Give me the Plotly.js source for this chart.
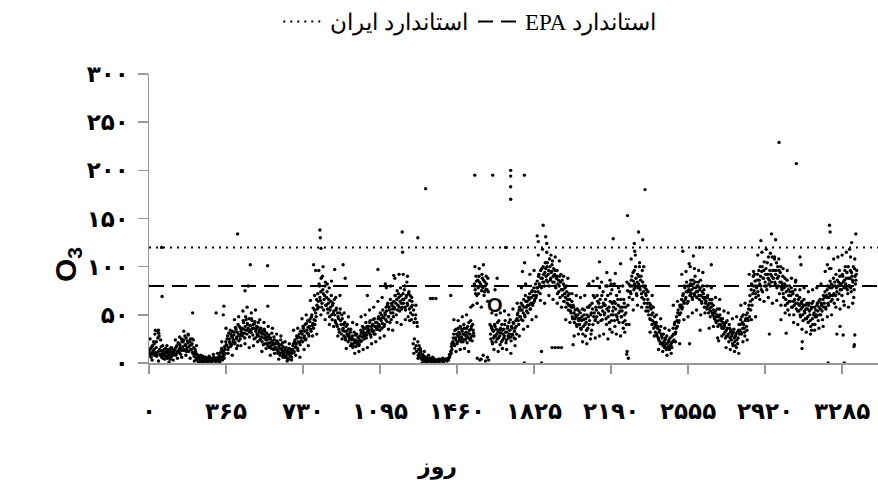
<!DOCTYPE html>
<html>
<head>
<meta charset="utf-8">
<script src="https://cdn.plot.ly/plotly-3.0.1.min.js"></script>
<style>html,body{margin:0;padding:0;background:#fff}#chart{width:878px;height:494px}</style>
</head>
<body>
<div id="chart"></div>
<script>
// Daily O3 readings, sampled every 4 days starting at day 0 (null = no data)
const sampleStepDays = 4;
const o3Values = [
12,8,15,10,18,9,14,30,11,7,
33,12,28,9,13,6,11,8,14,10,
7,12,5,10,9,14,6,11,8,13,
10,15,9,18,12,20,11,16,14,22,
17,24,13,19,26,15,21,12,18,25,
14,20,10,16,8,12,5,9,4,7,
3,5,2,4,6,3,2,5,4,3,
2,4,3,5,2,3,4,6,3,2,
4,3,5,2,10,4,15,3,8,5,
14,22,18,28,16,25,20,30,19,26,
24,32,21,35,27,18,30,38,25,33,
36,28,42,31,38,45,30,40,34,27,
39,32,44,29,36,41,26,35,30,37,
28,34,25,31,22,30,26,33,20,27,
24,18,29,21,26,15,23,19,27,16,
20,14,22,12,18,10,24,15,11,17,
9,14,7,12,5,10,15,8,11,6,
14,20,12,24,17,28,15,22,30,19,
26,33,22,36,28,40,25,34,44,30,
38,46,33,50,41,36,55,44,48,60,
72,58,80,65,88,62,76,55,70,84,
60,74,52,66,48,58,70,45,62,54,
50,42,57,38,48,35,52,44,30,46,
36,28,42,24,33,40,22,30,27,35,
20,28,18,32,24,17,30,22,26,19,
28,34,23,38,30,25,36,42,29,33,
38,31,44,27,35,40,33,46,30,37,
42,35,48,38,52,44,36,55,47,40,
50,58,43,62,48,55,66,45,60,52,
64,56,70,50,75,60,68,54,78,62,
58,72,66,80,55,70,62,48,74,65,
52,45,60,20,42,15,50,12,38,8,
18,6,12,4,9,3,7,2,5,3,
2,4,3,2,5,3,2,4,3,2,
3,2,null,4,null,3,null,2,5,null,
3,null,4,2,null,3,6,null,10,14,
22,30,18,26,35,20,28,32,24,38,
27,33,22,40,29,25,36,21,31,42,
30,26,38,23,34,28,80,72,85,5,
78,90,3,82,75,88,8,70,84,76,
82,6,74,null,40,25,36,20,33,28,
38,22,30,42,26,34,19,31,40,24,
35,28,44,21,32,38,26,30,45,23,
36,29,41,33,25,38,46,52,40,58,
48,62,55,44,66,50,70,58,64,52,
60,72,56,68,75,62,78,66,82,70,
85,74,92,80,96,78,88,100,84,94,
98,86,104,92,80,100,88,95,106,90,
84,96,78,90,72,86,80,68,92,76,
70,82,64,78,58,74,66,55,72,60,
52,64,46,58,42,55,48,38,50,44,
40,52,35,48,30,45,55,28,42,50,
36,58,44,25,52,62,40,48,68,45,
55,70,42,62,78,50,58,45,74,60,
52,66,40,80,48,58,35,72,44,62,
50,64,38,56,70,45,60,42,54,66,
48,58,36,62,44,52,9,75,5,68,
80,72,90,66,85,96,78,88,70,92,
82,100,76,90,68,84,74,62,80,70,
58,66,50,62,45,56,40,52,36,48,
32,42,28,38,24,34,20,30,26,18,
22,16,26,14,20,17,24,15,19,21,
28,36,24,42,32,48,38,55,44,60,
52,66,58,72,62,78,68,84,74,64,
80,70,86,76,66,82,72,90,78,68,
74,84,66,78,70,62,80,72,58,68,
64,56,70,52,62,48,58,66,50,55,
46,54,42,50,38,48,56,40,44,36,
42,30,38,26,34,44,28,22,36,32,
24,30,18,35,22,28,16,32,26,40,
34,45,30,42,50,36,28,46,38,52,
44,60,70,55,82,66,90,75,85,68,
78,92,70,86,100,80,95,74,88,105,
84,98,76,92,110,86,80,102,90,96,
88,108,82,96,78,100,90,72,94,84,
76,90,68,82,60,74,86,55,70,80,
64,78,58,72,50,66,84,56,70,62,
54,68,48,62,58,44,66,52,60,46,
56,42,62,50,38,58,46,64,52,40,
55,48,62,44,58,66,50,60,45,70,
62,74,56,68,80,60,72,85,64,78,
70,88,62,80,92,74,66,84,96,76,
82,70,90,64,86,100,78,94,72,88,
80,96,74,90,84,68,98,82,92
];
// In-between days, sampled every 4 days starting at day 2
const o3ValuesOffsetStart = 2;
const o3ValuesOffset = [
14,10,6,17,12,22,8,34,16,9,
26,31,14,8,17,10,5,13,9,15,
11,6,14,8,12,4,16,9,14,10,
13,8,17,11,21,14,19,9,25,13,
22,14,28,18,12,23,29,17,22,14,
19,11,24,7,14,10,3,8,6,2,
5,2,4,7,2,4,6,3,1,5,
3,6,2,4,5,2,3,5,2,4,
2,6,3,7,4,12,6,10,13,17,
10,19,25,14,31,22,17,28,33,22,
29,20,37,25,32,40,23,28,36,30,
31,44,35,26,48,34,41,36,46,32,
34,46,36,40,25,43,33,38,28,42,
32,24,36,27,33,19,35,29,24,31,
20,27,16,25,18,31,21,14,24,20,
16,23,10,20,15,8,19,13,21,8,
12,6,16,9,13,4,11,7,14,10,
18,11,22,16,20,26,13,27,21,33,
23,30,38,26,33,24,41,31,37,28,
43,35,48,39,57,45,40,52,66,56,
64,82,68,74,58,90,72,66,80,60,
68,56,62,78,55,64,50,60,52,66,
44,55,40,52,46,32,56,40,50,34,
40,33,26,38,30,28,35,25,32,24,
26,16,24,21,29,23,20,27,18,24,
22,31,27,33,36,28,31,26,38,35,
34,42,29,38,33,45,30,38,42,35,
38,46,40,34,46,50,41,48,38,52,
45,54,60,48,58,42,52,62,56,48,
58,70,62,66,55,72,58,64,70,56,
66,62,76,58,68,84,60,72,56,70,
58,64,50,55,25,46,18,42,22,14,
10,14,5,8,3,6,4,2,6,4,
3,2,5,3,2,4,2,3,4,3,
null,3,2,null,4,null,3,null,null,2,
null,4,null,3,5,null,8,12,17,20,
26,20,34,24,30,22,36,26,30,22,
35,25,30,36,24,32,28,38,26,34,
24,35,28,40,31,82,76,90,70,86,
72,84,80,4,92,78,86,74,80,90,
76,88,3,null,30,38,22,34,26,40,
28,35,25,32,44,28,36,22,34,30,
26,40,32,24,36,28,42,34,27,38,
30,42,26,36,44,30,50,44,55,48,
55,45,60,52,58,48,64,54,60,68,
66,56,62,74,60,70,64,74,68,78,
78,90,82,72,88,98,84,92,80,104,
90,100,84,96,108,86,94,102,84,98,
92,80,88,96,82,74,90,84,76,86,
76,64,72,68,80,62,70,60,66,54,
58,48,60,52,46,50,40,56,46,54,
46,36,44,56,38,50,40,46,34,58,
48,40,60,50,34,56,70,52,44,58,
48,64,52,58,66,44,70,54,62,50,
60,46,56,70,54,42,64,50,76,54,
58,44,62,50,48,66,52,74,58,48,
54,42,66,50,58,40,12,60,82,74,
74,86,80,94,76,82,100,72,84,78,
90,78,86,72,96,80,66,78,72,76,
62,54,58,46,60,50,44,58,42,38,
40,30,36,26,32,22,38,28,20,30,
18,24,20,28,16,22,14,26,18,16,
22,30,40,30,36,44,52,42,50,58,
60,56,70,64,80,66,74,62,80,76,
74,82,72,68,86,78,70,84,74,80,
80,70,76,86,64,74,68,76,66,62,
58,68,60,56,66,54,62,52,60,48,
52,44,48,56,44,40,50,46,38,46,
36,40,32,42,28,36,30,40,26,34,
28,20,32,26,18,30,24,20,34,30,
40,32,48,36,40,32,44,50,34,46,
56,48,64,76,60,72,80,92,72,80,
86,74,96,82,90,76,100,88,96,80,
92,80,104,88,82,96,92,84,110,88,
96,84,92,104,88,80,96,84,100,78,
82,72,78,88,66,80,62,76,64,74,
70,58,74,64,60,76,62,70,54,66,
60,50,56,64,50,60,54,46,56,62,
48,60,54,44,56,62,40,50,58,48,
50,60,54,64,50,56,62,54,66,58,
68,58,70,76,62,68,78,70,82,66,
80,72,84,70,78,86,80,72,90,82,
76,92,84,78,96,82,88,76,100,80,
88,78,94,86,100,76,90,86,96
];
// Widely scattered readings, sampled every 10 days starting at day 5
const o3SpreadStart = 5;
const o3SpreadStep = 10;
const o3Spread = [
25,3,20,22, 2,24,18,4, 18,1,16,3, 24,5,27,6, 33,8,30,5,
25,2,18,1, 8,0,6,1, 7,0,9,2, 10,1,22,8, 36,10,34,8,
45,15,48,18, 54,20,58,16, 52,18,55,22, 45,12,42,15, 38,8,36,10,
30,4,28,6, 22,2,20,3, 34,8,36,6, 46,14,50,18, 65,28,70,30,
96,50,100,45, 82,40,85,38, 68,28,70,25, 52,15,48,18, 42,10,40,12,
48,14,50,16, 55,20,58,22, 64,26,68,28, 78,35,80,34, 88,42,92,40,
92,45,90,44, 68,10,60,5, 15,0,12,1, 8,0,6,1, null,0,null,1,
4,null,9,20, 45,12,44,14, 48,15,50,12, 44,60,100,62, 98,58,102,2,
64,null,52,14, 50,12,52,15, 54,14,50,10, 56,18,62,28, 78,35,82,38,
92,45,96,48, 112,65,118,62, 115,70,112,66, 110,62,106,58, 90,45,88,42,
72,28,70,30, 68,22,70,20, 82,30,85,26, 88,28,84,30, 80,25,86,32,
82,30,78,28, 80,32,84,40, 108,55,112,60, 104,58,100,54, 74,32,70,28,
50,14,46,12, 36,8,34,10, 60,22,64,20, 92,45,95,48, 100,52,98,55,
96,50,94,52, 80,36,78,38, 68,26,66,28, 54,16,52,14, 46,12,48,10,
60,22,62,24, 92,45,95,48, 112,66,115,64, 118,68,114,62, 110,65,108,60,
98,52,96,50, 88,42,86,40, 76,35,78,32, 74,30,76,34, 78,36,82,38,
95,48,98,50, 108,58,110,56, 112,60,115,58, 110,62,108
];
// Isolated readings (day, value)
const extraDays = [60,62,45,207,318,355,352,420,480,562,470,455,563,780,810,812,815,790,920,880,930,1035,1085,1120,1160,1200,1274,1202,1311,1334,1345,1360,1430,1525,1544,1629,1779,1714,1714,1714,1714,1650,1690,1640,1770,1780,1868,1840,1845,1880,1885,1910,1925,1940,1955,1860,2010,1779,1860,2135,2170,2190,2200,2235,2210,2268,2351,2300,2320,2340,2302,2530,2580,2560,2610,2665,2562,2612,2700,2940,2986,3068,2900,2950,2970,3085,3090,2995,3020,3095,3096,3140,3225,3228,3220,3215,3232,3260,3275,3290,3345,3343,3219,3295,3341,3330,3350,3320];
const extraVals = [120,69,34,52,52,59,50,134,102,101,80,75,59,102,138,130,119,96,102,97,88,70,97,82,91,136,130,115,181,67,67,67,70,58,195,195,195,200,194,183,170,88,120,76,95,104,143,132,126,131,124,16,16,16,16,12,19,0,0,105,94,82,129,103,93,153,180,124,136,128,116,116,111,103,120,102,20,34,23,30,229,207,127,134,128,110,102,45,31,15,22,34,143,136,119,102,98,30,38,29,29,19,0,0,17,125,134,118];
// Standards
const standardNames = ['استاندارد ایران', 'استاندارد EPA'];
const standardValues = [120, 80];
const xTickVals = [0,365,730,1095,1460,1825,2190,2555,2920,3285];
const xTickText = ['۰','۳۶۵','۷۳۰','۱۰۹۵','۱۴۶۰','۱۸۲۵','۲۱۹۰','۲۵۵۵','۲۹۲۰','۳۲۸۵'];
const yTickVals = [0,50,100,150,200,250,300];
const yTickText = ['۰','۵۰','۱۰۰','۱۵۰','۲۰۰','۲۵۰','۳۰۰'];
const xMax = 3455;

const mainX = o3Values.map((v,i)=>i*sampleStepDays);
const offX = o3ValuesOffset.map((v,i)=>o3ValuesOffsetStart + i*sampleStepDays);
const spreadX = o3Spread.map((v,i)=>o3SpreadStart + i*o3SpreadStep);
const allX = mainX.concat(offX, spreadX, extraDays);
const allY = o3Values.concat(o3ValuesOffset, o3Spread, extraVals);

const rtl = s => '\u202B' + s + '\u202C';

const traces = [
  {x: allX, y: allY, type:'scatter', mode:'markers', showlegend:false,
   marker:{color:'#000', size:3.4}, hoverinfo:'skip'},
  {x:[0,xMax], y:[standardValues[0],standardValues[0]], type:'scatter', mode:'lines',
   name: rtl(standardNames[0]), line:{color:'#000', width:2, dash:'2px,5px'}},
  {x:[0,xMax], y:[standardValues[1],standardValues[1]], type:'scatter', mode:'lines',
   name: rtl(standardNames[1]), line:{color:'#000', width:2, dash:'15px,8px'}}
];

const tickFont = {family:'DejaVu Sans', size:23, color:'#000', weight:'bold'};
const layout = {
  width:878, height:494,
  margin:{l:149, r:0, t:74, b:131, autoexpand:false},
  paper_bgcolor:'#fff', plot_bgcolor:'#fff',
  showlegend:true,
  legend:{orientation:'h', x:0.44, xanchor:'center', yref:'container', y:1, yanchor:'top',
    itemwidth:42,
    font:{family:'Liberation Serif', size:23, color:'#000'}, bgcolor:'rgba(0,0,0,0)'},
  xaxis:{range:[0,xMax], tickvals:xTickVals, ticktext:xTickText, showgrid:false, zeroline:false,
    showline:true, linecolor:'#999', linewidth:1.5, ticks:'outside', ticklen:9, tickcolor:'#999', tickwidth:1.5,
    ticklabelstandoff:18, tickfont:tickFont},
  yaxis:{range:[0,300], tickvals:yTickVals, ticktext:yTickText, showgrid:false, zeroline:false,
    showline:true, linecolor:'#999', linewidth:1.5, ticks:'outside', ticklen:10, tickcolor:'#999', tickwidth:1.5,
    ticklabelstandoff:4, tickfont:tickFont},
  annotations:[
    {xref:'paper', yref:'paper', x:0.395, y:-0.36, xanchor:'center', yanchor:'middle', text:'روز', showarrow:false,
     font:{family:'DejaVu Sans', size:22, color:'#000', weight:'bold'}},
    {xref:'paper', yref:'paper', x:-0.112, y:0.34, xanchor:'center', yanchor:'middle', text:'O<sub>3</sub>', showarrow:false, textangle:-90,
     font:{family:'Liberation Sans', size:30, color:'#000', weight:'bold'}},
    {xref:'x', yref:'y', x:1640, y:60, text:'O', showarrow:false,
     font:{family:'Liberation Sans', size:20, color:'#000', weight:'bold'}}
  ]
};
Plotly.newPlot('chart', traces, layout, {displayModeBar:false, staticPlot:true});
</script>
</body>
</html>
